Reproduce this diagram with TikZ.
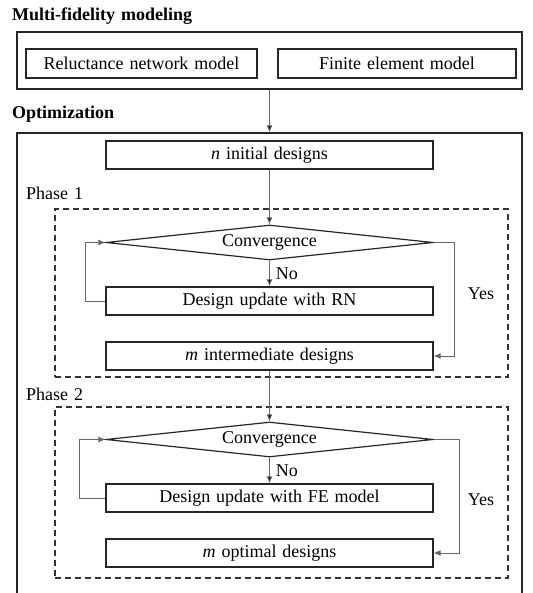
\documentclass[tikz,border=0pt]{standalone}
\usepackage{fontspec}
\setmainfont{Liberation Serif}[WordSpace={1.3,1,1}]
\usetikzlibrary{arrows.meta}
\usetikzlibrary{positioning}
\usetikzlibrary{shapes.geometric}

\begin{document}
\begin{tikzpicture}[x=1pt,y=-1pt,->,>={Latex[length=7pt,width=6pt]},shorten >=0pt,auto,
  font=\fontsize{18}{20}\selectfont,
  frame/.style={draw=black!85,line width=1.2pt,inner sep=0pt},
  step box/.style={frame,minimum width=327,minimum height=28},
  test node/.style={frame,diamond,aspect=9,minimum width=327,minimum height=35},
  phase box/.style={draw=black!80,line width=1.1pt,dash pattern=on 6pt off 4pt,inner sep=0pt},
  link/.style={draw=black!60,line width=0.9pt},
  title/.style={anchor=west,inner sep=0pt,font=\fontsize{18}{20}\selectfont\bfseries}]

  \useasboundingbox (0,0) rectangle (532,593);

  % multi-fidelity models
  \node[title] (t1) at (12,16) {Multi-fidelity modeling};
  \node[frame,minimum width=505,minimum height=57] (mfm) at (269.5,60.5) {};
  \node[frame,minimum width=231,minimum height=29] (rnm) at (141.5,63.5) {Reluctance network model};
  \node[frame,minimum width=238,minimum height=29] (fem) at (397,63.5) {Finite element model};

  % optimization
  \node[title] (t2) at (12,114) {Optimization};
  \node[frame,minimum width=505,minimum height=480] (opt) at (269.5,373) {};
  \node[step box] (init) at (269.5,155) {\textit{n} initial designs};

  % phase 1
  \node[anchor=west,inner sep=0pt] (p1) at (26,193) {Phase 1};
  \node[phase box,minimum width=453,minimum height=168] (ph1) at (281.5,293) {};
  \node[test node] (conv1) at (269.5,242.5) {Convergence};
  \node[step box] (rn) at (269.5,301) {Design update with RN};
  \node[step box] (inter) at (269.5,356) {\textit{m} intermediate designs};
  \node[inner sep=0pt] (yes1) at (481,294) {Yes};

  % phase 2
  \node[anchor=west,inner sep=0pt] (p2) at (26,394) {Phase 2};
  \node[phase box,minimum width=453,minimum height=171] (ph2) at (281.5,492.5) {};
  \node[test node] (conv2) at (269.5,439.5) {Convergence};
  \node[step box] (fe) at (269.5,498) {Design update with FE model};
  \node[step box] (opti) at (269.5,553) {\textit{m} optimal designs};
  \node[inner sep=0pt] (yes2) at (481,500) {Yes};

  \path[link] (mfm) edge (opt.north);
  \path[link] (init) edge (conv1);
  \path[link] (conv1) edge node[inner sep=6pt] {No} (rn);
  \draw[link] (rn.west) -- ++(-20,0) |- (conv1.west);
  \draw[link] (conv1.east) -- ++(21,0) |- (inter.east);
  \path[link] (inter) edge (conv2);
  \path[link] (conv2) edge node[inner sep=6pt] {No} (fe);
  \draw[link] (fe.west) -- ++(-26,0) |- (conv2.west);
  \draw[link] (conv2.east) -- ++(26,0) |- (opti.east);
\end{tikzpicture}
\end{document}
